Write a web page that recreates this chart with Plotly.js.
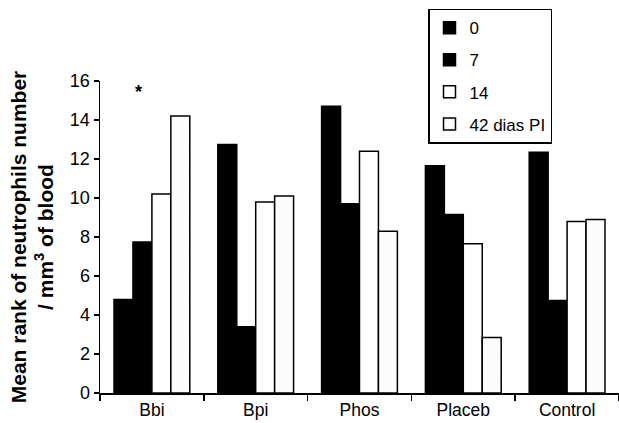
<!DOCTYPE html>
<html>
<head>
<meta charset="utf-8">
<script src="https://cdn.plot.ly/plotly-3.0.1.min.js"></script>
<style>html,body{margin:0;padding:0;background:#fff;}#chart{width:619px;height:423px;}</style>
</head>
<body>
<div id="chart"></div>
<script>
const categories = ["Bbi", "Bpi", "Phos", "Placeb", "Control"];
const seriesNames = ["0", "7", "14", "42 dias PI"];
const day0 = [4.8, 12.75, 14.7, 11.65, 12.35];
const day7 = [7.75, 3.4, 9.7, 9.15, 4.75];
const day14 = [10.2, 9.8, 12.4, 7.65, 8.8];
const day42 = [14.2, 10.1, 8.3, 2.85, 8.9];
const yTicks = [0, 2, 4, 6, 8, 10, 12, 14, 16];

const font = "Liberation Sans, Arial, sans-serif";
const values = [day0, day7, day14, day42];
const fills = ["#000000", "#000000", "#ffffff", "#fcfcfc"];
const traces = values.map((v, i) => ({
  type: "bar",
  x: categories,
  y: v,
  name: seriesNames[i],
  legendgroup: "g" + i,
  marker: {
    color: fills[i],
    line: {color: "#000", width: 1.5},
    pattern: i === 3 ? {shape: ".", fgcolor: "#cccccc", bgcolor: "#fcfcfc", size: 26, solidity: 0.02} : undefined
  },
  hoverinfo: "skip"
}));

const layout = {
  width: 619, height: 423,
  margin: {l: 100, r: 0, t: 81, b: 30},
  paper_bgcolor: "#fff", plot_bgcolor: "#fff",
  font: {family: font, color: "#000", size: 17},
  barmode: "group",
  bargap: 0.27,
  bargroupgap: 0,
  showlegend: true,
  legend: {
    x: 0.632, y: 1.232, xanchor: "left", yanchor: "top",
    bordercolor: "#000", borderwidth: 1.5, bgcolor: "#fff",
    font: {family: font, size: 17, color: "#000"},
    traceorder: "grouped", tracegroupgap: 7
  },
  xaxis: {
    type: "category", range: [-0.5, 4.5],
    showline: true, linecolor: "#000", linewidth: 1.5,
    ticks: "outside", tickson: "boundaries", ticklen: 6, tickcolor: "#000", tickwidth: 1.5,
    showgrid: false, zeroline: false,
    tickfont: {family: font, size: 17.5, color: "#000"}
  },
  yaxis: {
    range: [0, 16], tickvals: yTicks, ticktext: yTicks.map(String),
    showline: true, linecolor: "#000", linewidth: 1.5,
    ticks: "outside", ticklen: 5, tickcolor: "#000", tickwidth: 1.5,
    showgrid: false, zeroline: false,
    tickfont: {family: font, size: 18, color: "#000"},
    title: {
      text: "<b>Mean rank of neutrophils number<br>/ mm<sup>3</sup> of blood</b>",
      font: {family: font, size: 21, color: "#000"},
      standoff: 10
    }
  },
  annotations: [{
    xref: "x", yref: "y", x: "Bbi", y: 15.45, xshift: -13,
    text: "<b>*</b>", showarrow: false,
    font: {family: font, size: 18, color: "#000"}
  }]
};

Plotly.newPlot("chart", traces, layout, {displayModeBar: false, staticPlot: true});
</script>
</body>
</html>
